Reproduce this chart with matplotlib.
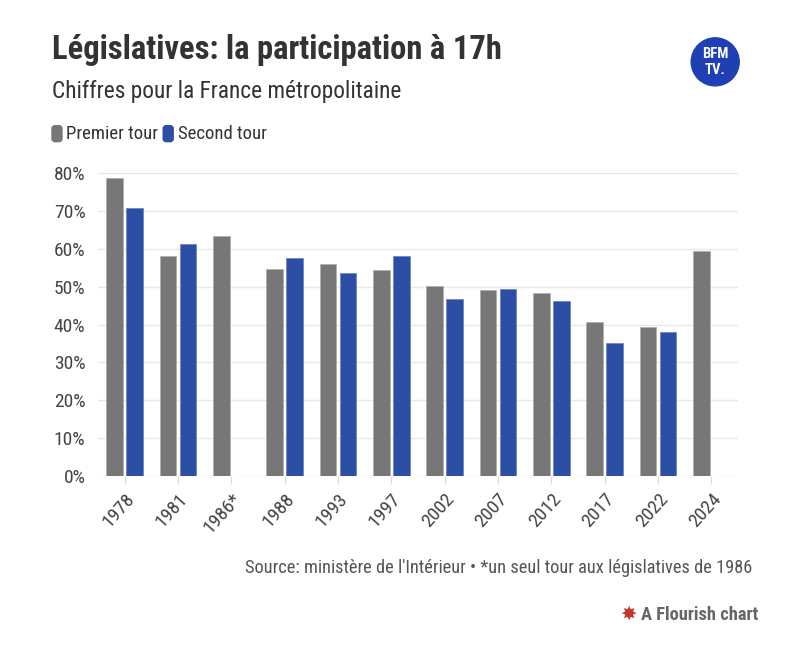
import numpy as np
import matplotlib.pyplot as plt
from matplotlib.patches import FancyBboxPatch, Ellipse

annees = ['1978', '1981', '1986*', '1988', '1993', '1997', '2002', '2007', '2012', '2017', '2022', '2024']
premier_tour = [78.7, 58.2, 63.4, 54.6, 55.9, 54.4, 50.3, 49.2, 48.3, 40.6, 39.3, 59.4]
second_tour = [70.7, 61.3, np.nan, 57.7, 53.7, 58.1, 46.7, 49.4, 46.3, 35.2, 38.0, np.nan]
y_ticks = [0, 10, 20, 30, 40, 50, 60, 70, 80]

gris = '#777777'
bleu = '#2c4ea4'
police = ['Roboto Condensed', 'Roboto', 'DejaVu Sans']
plt.rcParams['font.family'] = police

fig = plt.figure(figsize=(8, 6.65), dpi=100)
ax = fig.add_axes([0.1225, 0.2842, 0.8, 0.4552])

x = np.arange(len(annees))
w = 0.31
ax.bar(x - 0.188, premier_tour, w, color=gris, edgecolor='#b0b0b0', linewidth=0.6, zorder=3)
ax.bar(x + 0.188, second_tour, w, color=bleu, edgecolor='#6f86c8', linewidth=0.6, zorder=3)

ax.set_xlim(-0.5, len(annees) - 0.5)
ax.set_ylim(0, 80)
ax.set_yticks(y_ticks)
ax.set_yticklabels([str(v) + '%' for v in y_ticks], fontsize=14, color='#444444')
ax.set_xticks(x)
ax.set_xticklabels(annees, rotation=48, ha='right', rotation_mode='anchor',
                   fontsize=14, color='#444444')
ax.tick_params(axis='y', length=0, pad=9)
ax.tick_params(axis='x', length=6, color='#dddddd', pad=4)
ax.grid(axis='y', color='#e8e8e8', linewidth=1, zorder=0)
for s in ax.spines.values():
    s.set_visible(False)

# titres
fig.text(0.065, 0.925, 'Législatives: la participation à 17h', fontsize=23.5, fontweight='bold',
         color='#333333', va='center')
fig.text(0.065, 0.862, 'Chiffres pour la France métropolitaine', fontsize=16.8,
         color='#333333', va='center')

# légende
for x0, c, lab in [(0.065, gris, 'Premier tour'), (0.204, bleu, 'Second tour')]:
    fig.patches.append(FancyBboxPatch((x0, 0.787), 0.0125, 0.024,
                                      boxstyle='round,pad=0,rounding_size=0.004',
                                      transform=fig.transFigure, color=c))
    fig.text(x0 + 0.018, 0.799, lab, fontsize=13.5, color='#333333', va='center')

# logo BFM
fig.patches.append(Ellipse((0.894, 0.907), 48 / 800, 48 / 665, transform=fig.transFigure,
                           color='#1f3fb5', zorder=5))
fig.text(0.894, 0.919, 'BFM', fontsize=10.5, fontweight='bold', color='white',
         ha='center', va='center', zorder=6)
fig.text(0.894, 0.895, 'TV.', fontsize=10.5, fontweight='bold', color='white',
         ha='center', va='center', zorder=6)

fig.text(0.94, 0.146, "Source: ministère de l'Intérieur • *un seul tour aux législatives de 1986",
         fontsize=13.2, color='#555555', ha='right', va='center')
fig.text(0.785, 0.075, '✸', fontsize=14, color='#c0392b', ha='center', va='center')
fig.text(0.948, 0.075, 'A Flourish chart', fontsize=13.3, fontweight='bold',
         color='#666666', ha='right', va='center')

plt.savefig('out.png', dpi=100)
